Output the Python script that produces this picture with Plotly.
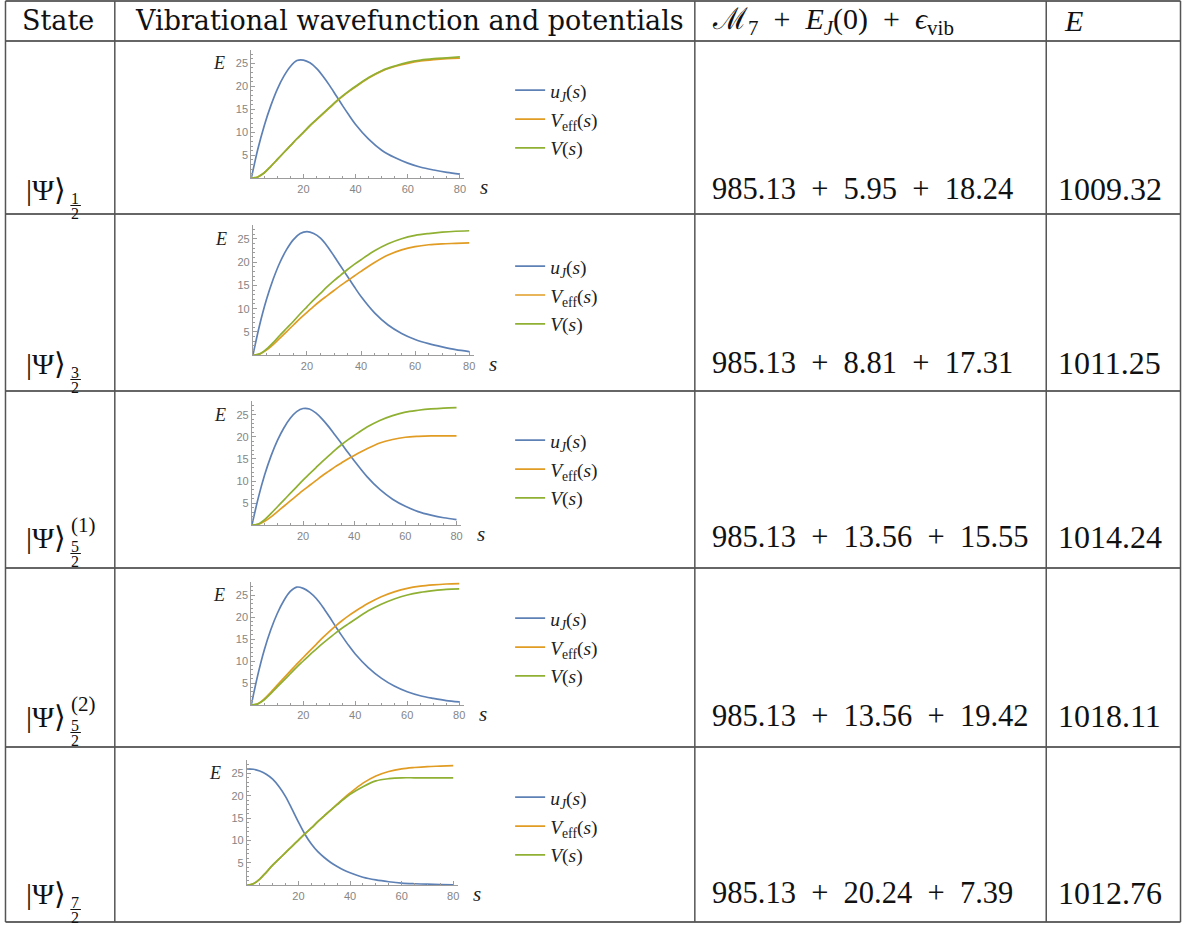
import plotly.graph_objects as go

W, H = 1188, 925

# ---------------- data ----------------
S = [0, 2.5, 5, 7.5, 10, 12.5, 15, 17.5, 20, 22.5, 25, 27.5, 30, 32.5, 35, 37.5, 40,
     45, 50, 55, 60, 65, 70, 75, 80]

u_1 = [0, 6.3, 11.5, 15.8, 19.4, 22.2, 24.3, 25.6, 25.7, 25.1, 23.9, 22.2, 20.2, 18.0, 15.8, 13.7, 11.7,
       8.5, 6.1, 4.5, 3.3, 2.4, 1.8, 1.3, 0.9]
veff_1 = [0, 0.3, 1.2, 2.6, 4.1, 5.6, 7.1, 8.6, 10.0, 11.4, 12.7, 14.0, 15.3, 16.6, 17.8, 18.9, 19.9,
          21.8, 23.3, 24.3, 25.0, 25.5, 25.8, 26.0, 26.1]
v_1 = [0, 0.3, 1.2, 2.6, 4.1, 5.6, 7.1, 8.6, 10.0, 11.5, 12.8, 14.1, 15.4, 16.7, 17.9, 19.0, 20.0,
       21.9, 23.4, 24.4, 25.2, 25.7, 26.0, 26.2, 26.4]

u_2 = [0, 6.5, 11.9, 16.3, 19.9, 22.7, 24.8, 26.1, 26.5, 26.1, 25.1, 23.4, 21.3, 19.1, 16.9, 14.7, 12.6,
       9.1, 6.5, 4.7, 3.4, 2.5, 1.8, 1.2, 0.8]
veff_2 = [0, 0.25, 1.1, 2.3, 3.7, 5.1, 6.5, 7.9, 9.2, 10.5, 11.7, 12.8, 13.9, 15.0, 16.0, 17.0, 18.0,
          19.9, 21.5, 22.6, 23.3, 23.7, 23.9, 24.0, 24.1]
v_2 = [0, 0.3, 1.3, 2.7, 4.3, 5.8, 7.3, 8.9, 10.4, 11.9, 13.3, 14.7, 16.0, 17.2, 18.4, 19.5, 20.5,
       22.4, 23.9, 25.0, 25.7, 26.1, 26.4, 26.6, 26.7]

u_3 = [0, 6.2, 11.4, 15.7, 19.2, 22.0, 24.2, 25.7, 26.4, 26.3, 25.4, 24.0, 22.3, 20.4, 18.5, 16.5, 14.6,
       11.0, 8.1, 5.9, 4.3, 3.1, 2.3, 1.7, 1.3]
veff_3 = [0, 0.2, 0.9, 1.9, 3.1, 4.3, 5.5, 6.7, 7.9, 9.0, 10.1, 11.2, 12.2, 13.2, 14.1, 15.0, 15.8,
          17.3, 18.6, 19.4, 19.9, 20.1, 20.2, 20.2, 20.2]
v_3 = [0, 0.3, 1.3, 2.7, 4.2, 5.7, 7.2, 8.7, 10.2, 11.6, 13.0, 14.4, 15.7, 17.0, 18.2, 19.3, 20.3,
       22.2, 23.7, 24.8, 25.6, 26.0, 26.3, 26.5, 26.6]

u_4 = [0, 6.8, 12.5, 17.1, 20.8, 23.7, 25.8, 26.8, 26.5, 25.6, 24.2, 22.3, 20.1, 17.8, 15.6, 13.5, 11.6,
       8.5, 6.1, 4.3, 3.0, 2.1, 1.5, 1.0, 0.7]
veff_4 = [0, 0.3, 1.4, 2.9, 4.5, 6.1, 7.7, 9.3, 10.8, 12.3, 13.8, 15.3, 16.7, 18.0, 19.2, 20.3, 21.3,
          23.1, 24.6, 25.7, 26.5, 27.0, 27.3, 27.5, 27.6]
v_4 = [0, 0.25, 1.2, 2.6, 4.1, 5.6, 7.1, 8.6, 10.0, 11.4, 12.7, 14.0, 15.2, 16.4, 17.5, 18.5, 19.5,
       21.4, 22.9, 24.1, 25.0, 25.6, 26.0, 26.3, 26.4]

u_5 = [26.0, 25.9, 25.5, 24.8, 23.7, 22.0, 19.8, 17.0, 14.1, 11.4, 9.2, 7.5, 6.2, 5.1, 4.2, 3.4, 2.8,
       1.8, 1.2, 0.8, 0.5, 0.35, 0.25, 0.18, 0.12]
veff_5 = [0, 0.35, 1.4, 2.9, 4.5, 5.9, 7.3, 8.7, 10.1, 11.5, 12.8, 14.2, 15.5, 16.8, 18.1, 19.4, 20.6,
          22.8, 24.4, 25.4, 26.0, 26.3, 26.5, 26.6, 26.7]
v_5 = [0, 0.35, 1.4, 2.9, 4.5, 5.9, 7.3, 8.7, 10.1, 11.5, 12.8, 14.2, 15.5, 16.8, 18.0, 19.2, 20.3,
       22.0, 23.3, 23.8, 24.0, 24.0, 24.0, 24.0, 24.0]

U_J = [u_1, u_2, u_3, u_4, u_5]
V_EFF = [veff_1, veff_2, veff_3, veff_4, veff_5]
V_POT = [v_1, v_2, v_3, v_4, v_5]

state_num = ["1", "3", "5", "5", "7"]
state_den = ["2", "2", "2", "2", "2"]
state_sup = ["", "", "(1)", "(2)", ""]
m7 = [985.13, 985.13, 985.13, 985.13, 985.13]
ej0 = [5.95, 8.81, 13.56, 13.56, 20.24]
evib = [18.24, 17.31, 15.55, 19.42, 7.39]
etot = [1009.32, 1011.25, 1014.24, 1018.11, 1012.76]

x_ticks = [20, 40, 60, 80]
y_ticks = [5, 10, 15, 20, 25]

SP = "\u2002"
headers = ["State", "Vibrational wavefunction and potentials",
           f"ℳ<sub>7</sub>{SP}+{SP}<i>E<sub>J</sub></i>(0){SP}+{SP}<i>ϵ</i><sub>vib</sub>", "<i>E</i>"]
legend_names = ["<i>u<sub>J</sub></i>(<i>s</i>)", "<i>V</i><sub>eff</sub>(<i>s</i>)", "<i>V</i>(<i>s</i>)"]

# ---------------- layout geometry (pixels) ----------------
BLUE, ORANGE, GREEN = "#5E81B5", "#E19C24", "#8FB032"
ROW_Y = [1, 41, 214, 391, 568, 747, 922]
COL_X = [5.5, 115, 696, 1048, 1182.5]
TEXT_Y = [189, 363, 537, 716, 893]
CAL = [(251.7, 460.7, 178.3, 63.3), (253.3, 470.0, 355.3, 238.7), (252.3, 457.3, 525.3, 414.7),
       (251.7, 460.0, 705.0, 595.0), (247.3, 454.0, 885.3, 773.3)]
LEG_Y = [92, 268, 442, 620, 799]
XMAX, YMAX = 81.7, 28.0

SERIF = "Liberation Serif"
HSERIF = "DejaVu Serif"


def px(x):
    return x / W


def py(y):
    return 1 - y / H


fig = go.Figure()
layout = dict(width=W, height=H, margin=dict(l=0, r=0, t=0, b=0), paper_bgcolor="white",
              plot_bgcolor="rgba(0,0,0,0)", showlegend=True)
annotations = []
shapes = []

x_minor = [v for v in range(5, 81, 5) if v not in x_ticks]
y_minor = [v for v in range(1, 28) if v % 5 != 0]

for i in range(5):
    sfx = "" if i == 0 else str(i + 1)
    xa, ya, lg = "x" + sfx, "y" + sfx, "legend" + sfx
    series = [(legend_names[0], U_J[i], BLUE), (legend_names[1], V_EFF[i], ORANGE), (legend_names[2], V_POT[i], GREEN)]
    for k, (nm, vals, col) in enumerate(series):
        fig.add_trace(go.Scatter(x=S, y=vals, mode="lines", name=nm,
                                 line=dict(color=col, width=1.7, shape="spline", smoothing=0.9),
                                 xaxis=xa, yaxis=ya, legend=lg, legendgroup=f"g{i}_{k}", hoverinfo="skip"))
    x0, x80, y0, y25 = CAL[i]
    xr = x0 + (x80 - x0) / 80 * XMAX
    yt = y0 - (y0 - y25) / 25 * YMAX
    common = dict(showgrid=False, zeroline=False, showline=True, linecolor="#9c9c9c", linewidth=1,
                  ticks="inside", ticklen=4, tickcolor="#9c9c9c", tickwidth=1,
                  tickfont=dict(family="Liberation Sans", size=11, color="#858585"), fixedrange=True)
    layout["xaxis" + sfx] = dict(common, domain=[px(x0), px(xr)], range=[0, XMAX], anchor=ya,
                                 tickmode="array", tickvals=x_ticks,
                                 minor=dict(tickmode="array", tickvals=x_minor, ticklen=2, ticks="inside", tickcolor="#9c9c9c"))
    layout["yaxis" + sfx] = dict(common, domain=[py(y0), py(yt)], range=[0, YMAX], anchor=xa,
                                 tickmode="array", tickvals=y_ticks,
                                 minor=dict(tickmode="array", tickvals=y_minor, ticklen=2, ticks="inside", tickcolor="#9c9c9c"))
    layout[lg] = dict(x=px(511), y=py(LEG_Y[i] - 21), xanchor="left", yanchor="top",
                      bgcolor="rgba(0,0,0,0)", borderwidth=0, traceorder="grouped", tracegroupgap=0.5,
                      font=dict(family=SERIF, size=19.5, color="#222"), itemwidth=30)
    # axis labels
    annotations.append(dict(x=0, y=25, xref=xa, yref=ya, xshift=-32, text="<i>E</i>", showarrow=False,
                            font=dict(family=SERIF, size=18, color="#222")))
    annotations.append(dict(x=80, y=0, xref=xa, yref=ya, xshift=24, yshift=-9, text="<i>s</i>", showarrow=False,
                            font=dict(family=SERIF, size=21, color="#222")))
    # state label
    ty = TEXT_Y[i]
    annotations.append(dict(x=px(24), y=py(ty), xref="paper", yref="paper", xanchor="left", yanchor="middle",
                            text="|Ψ⟩", showarrow=False, font=dict(family=SERIF, size=30, color="#111")))
    annotations.append(dict(x=px(75.5), y=py(ty + 9), xref="paper", yref="paper", xanchor="center", yanchor="middle",
                            text=state_num[i], showarrow=False, height=12, borderpad=0,
                            font=dict(family=SERIF, size=16, color="#111")))
    annotations.append(dict(x=px(75.5), y=py(ty + 24), xref="paper", yref="paper", xanchor="center", yanchor="middle",
                            text=state_den[i], showarrow=False, height=12, borderpad=0,
                            font=dict(family=SERIF, size=16, color="#111")))
    shapes.append(dict(type="line", xref="paper", yref="paper", x0=px(70.5), x1=px(81), y0=py(ty + 16.5), y1=py(ty + 16.5),
                       line=dict(color="#111", width=1)))
    if state_sup[i]:
        annotations.append(dict(x=px(69), y=py(ty - 12), xref="paper", yref="paper", xanchor="left", yanchor="middle",
                                text=state_sup[i], showarrow=False, font=dict(family=SERIF, size=21, color="#111")))
    # numbers
    annotations.append(dict(x=px(711), y=py(ty), xref="paper", yref="paper", xanchor="left", yanchor="middle",
                            text=f"{m7[i]:.2f}{SP}+{SP}{ej0[i]:.2f}{SP}+{SP}{evib[i]:.2f}", showarrow=False,
                            font=dict(family=SERIF, size=30.5, color="#111")))
    annotations.append(dict(x=px(1058), y=py(ty), xref="paper", yref="paper", xanchor="left", yanchor="middle",
                            text=f"{etot[i]:.2f}", showarrow=False, font=dict(family=SERIF, size=32, color="#111")))

# headers
HEAD_X = [20, 133, 711, 1064]
HEAD_FONT = [(HSERIF, 27), (HSERIF, 27), (SERIF, 30), (SERIF, 30)]
for j in range(4):
    annotations.append(dict(x=px(HEAD_X[j]), y=py(21), xref="paper", yref="paper", xanchor="left", yanchor="middle",
                            text=headers[j], showarrow=False,
                            font=dict(family=HEAD_FONT[j][0], size=HEAD_FONT[j][1], color="#111")))

# table rules
for yv in ROW_Y:
    shapes.append(dict(type="line", xref="paper", yref="paper", x0=px(COL_X[0]), x1=px(COL_X[-1]), y0=py(yv), y1=py(yv),
                       line=dict(color="#333", width=1.5)))
for xv in COL_X:
    shapes.append(dict(type="line", xref="paper", yref="paper", x0=px(xv), x1=px(xv), y0=py(ROW_Y[0]), y1=py(ROW_Y[-1]),
                       line=dict(color="#555", width=1.5)))

layout["annotations"] = annotations
layout["shapes"] = shapes
fig.update_layout(**layout)
fig.write_html("out.html", config={"displayModeBar": False},
               post_script="document.body.style.margin='0px';document.body.style.padding='0px';")
